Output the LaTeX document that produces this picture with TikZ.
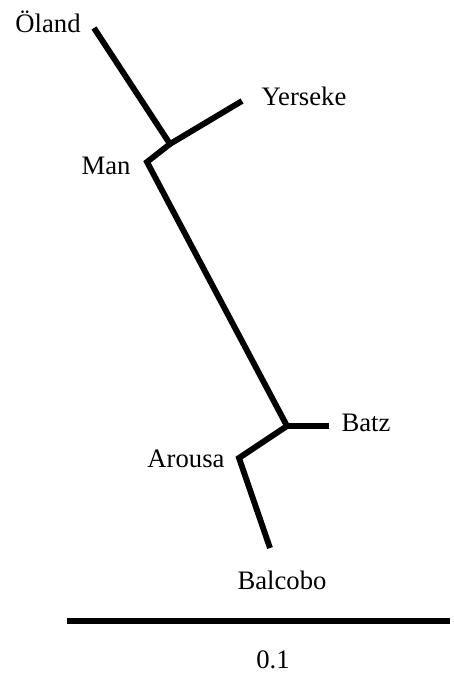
\documentclass[tikz,border=0pt]{standalone}
\usepackage{fontspec}
\setmainfont{Liberation Serif}
\usepackage{tikz}
\usetikzlibrary{positioning}

\begin{document}
\begin{tikzpicture}[
    x=0.75pt, y=-0.75pt,
    branch/.style={line width=4.4pt, line join=miter, line cap=butt},
    taxon/.style={font=\fontsize{20}{22}\selectfont, inner sep=0pt}
]
\useasboundingbox (0,0) rectangle (453,673);

% --- inner nodes and tips ---
\coordinate (tOland) at (94,28);
\coordinate (tYerseke) at (242,101);
\coordinate (jUpper) at (170,144);
\coordinate (nMan) at (147,162);
\coordinate (jLower) at (287,426);
\coordinate (tBatz) at (329,426);
\coordinate (nArousa) at (239,458);
\coordinate (tBalcobo) at (270,548);

% --- labels ---
\node[taxon] (lOland) at (48,22) {Öland};
\node[taxon] (lYerseke) at (304,96) {Yerseke};
\node[taxon] (lMan) at (106,166) {Man};
\node[taxon] (lBatz) at (366,423) {Batz};
\node[taxon] (lArousa) at (186,459) {Arousa};
\node[taxon] (lBalcobo) at (282,580) {Balcobo};

% --- branches ---
\draw[branch] (tOland) -- (jUpper);
\draw[branch] (tYerseke) -- (jUpper);
\draw[branch] (jUpper) -- (nMan) -- (jLower);
\draw[branch] (jLower) -- (tBatz);
\draw[branch] (jLower) -- (nArousa) -- (tBalcobo);

% scale bar
\coordinate (sbL) at (67,621);
\coordinate (sbR) at (450,621);
\draw[branch] (sbL) -- (sbR);
\node[taxon] (lScale) at (273,660) {0.1};
\end{tikzpicture}
\end{document}
